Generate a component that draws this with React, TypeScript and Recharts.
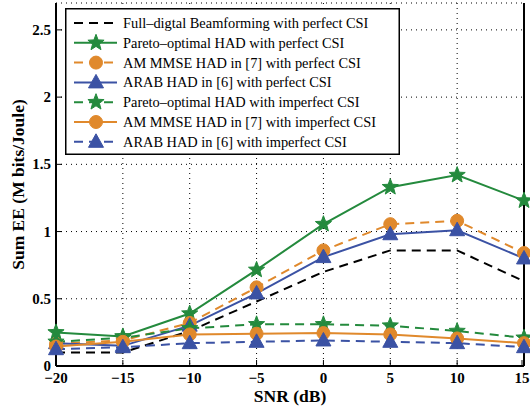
import React from 'react';
import { LineChart, Line, XAxis, YAxis, CartesianGrid, Legend } from 'recharts';

const snr = [-20, -15, -10, -5, 0, 5, 10, 15];
const fullDigital = [0.1, 0.1, 0.26, 0.48, 0.7, 0.86, 0.86, 0.63];
const paretoPerfect = [0.25, 0.22, 0.39, 0.715, 1.055, 1.33, 1.42, 1.23];
const ammsePerfect = [0.165, 0.19, 0.32, 0.585, 0.86, 1.055, 1.08, 0.84];
const arabPerfect = [0.17, 0.15, 0.3, 0.54, 0.81, 0.98, 1.01, 0.8];
const paretoImperfect = [0.18, 0.21, 0.28, 0.31, 0.31, 0.3, 0.26, 0.21];
const ammseImperfect = [0.145, 0.18, 0.235, 0.24, 0.245, 0.235, 0.205, 0.17];
const arabImperfect = [0.125, 0.14, 0.17, 0.18, 0.19, 0.18, 0.17, 0.14];

const xTicks = [-20, -15, -10, -5, 0, 5, 10, 15];
const yTicks = [0, 0.5, 1, 1.5, 2, 2.5];

const GREEN = '#248a3d';
const ORANGE = '#e0892c';
const BLUE = '#3b52a4';
const FONT = '"Liberation Serif", "DejaVu Serif", serif';

const data = snr.map((s, i) => ({
  snr: s,
  fullDigital: fullDigital[i],
  paretoPerfect: paretoPerfect[i],
  ammsePerfect: ammsePerfect[i],
  arabPerfect: arabPerfect[i],
  paretoImperfect: paretoImperfect[i],
  ammseImperfect: ammseImperfect[i],
  arabImperfect: arabImperfect[i],
}));

type MarkerKind = 'none' | 'star' | 'circle' | 'triangle';

const Marker = ({ kind, cx, cy, color }: { kind: MarkerKind; cx: number; cy: number; color: string }) => {
  if (kind === 'star') {
    const R = 8.5;
    const r = 3.6;
    const pts: string[] = [];
    for (let k = 0; k < 10; k++) {
      const ang = -Math.PI / 2 + (k * Math.PI) / 5;
      const rad = k % 2 === 0 ? R : r;
      pts.push(`${cx + rad * Math.cos(ang)},${cy + rad * Math.sin(ang)}`);
    }
    return <polygon points={pts.join(' ')} fill={color} stroke={color} strokeWidth={1} />;
  }
  if (kind === 'circle') {
    return <circle cx={cx} cy={cy} r={6.5} fill={color} stroke={color} strokeWidth={1} />;
  }
  if (kind === 'triangle') {
    return (
      <polygon
        points={`${cx},${cy - 8} ${cx - 7.5},${cy + 5.5} ${cx + 7.5},${cy + 5.5}`}
        fill={color}
        stroke={color}
        strokeWidth={1}
      />
    );
  }
  return null;
};

const series: { key: string; name: string; color: string; dash?: string; marker: MarkerKind }[] = [
  { key: 'fullDigital', name: 'Full\u2013digtal Beamforming with perfect CSI', color: '#000', dash: '9 6', marker: 'none' },
  { key: 'paretoPerfect', name: 'Pareto\u2013optimal HAD with perfect CSI', color: GREEN, marker: 'star' },
  { key: 'ammsePerfect', name: 'AM MMSE HAD in [7] with perfect CSI', color: ORANGE, dash: '9 6', marker: 'circle' },
  { key: 'arabPerfect', name: 'ARAB HAD in [6] with perfect CSI', color: BLUE, marker: 'triangle' },
  { key: 'paretoImperfect', name: 'Pareto\u2013optimal HAD with imperfect CSI', color: GREEN, dash: '9 6', marker: 'star' },
  { key: 'ammseImperfect', name: 'AM MMSE HAD in [7] with imperfect CSI', color: ORANGE, marker: 'circle' },
  { key: 'arabImperfect', name: 'ARAB HAD in [6] with imperfect CSI', color: BLUE, dash: '9 6', marker: 'triangle' },
];

const fmtX = (v: number) => (v < 0 ? `\u2212${Math.abs(v)}` : `${v}`);

const XTickBottom = (props: any) => {
  const { x, y, payload } = props;
  return (
    <g>
      <line x1={x} y1={y} x2={x} y2={y - 6} stroke="#000" strokeWidth={1} />
      <text x={x} y={y + 17} textAnchor="middle" fontFamily={FONT} fontWeight="bold" fontSize={15} fill="#000">
        {fmtX(payload.value)}
      </text>
    </g>
  );
};

const XTickTop = (props: any) => {
  const { x, y } = props;
  return <line x1={x} y1={y} x2={x} y2={y + 6} stroke="#000" strokeWidth={1} />;
};

const YTickLeft = (props: any) => {
  const { x, y, payload } = props;
  return (
    <g>
      <line x1={x} y1={y} x2={x + 6} y2={y} stroke="#000" strokeWidth={1} />
      <text x={x - 5} y={y + 5} textAnchor="end" fontFamily={FONT} fontWeight="bold" fontSize={15} fill="#000">
        {String(payload.value)}
      </text>
    </g>
  );
};

const YTickRight = (props: any) => {
  const { x, y } = props;
  return <line x1={x} y1={y} x2={x - 6} y2={y} stroke="#000" strokeWidth={1} />;
};

const LegendBox = () => {
  const w = 335;
  const h = 147;
  return (
    <svg width={w} height={h} style={{ display: 'block' }}>
      <rect x={0.75} y={0.75} width={w - 1.5} height={h - 1.5} fill="#fff" stroke="#000" strokeWidth={1.5} />
      {series.map((s, i) => {
        const cy = 15 + i * 19.8;
        return (
          <g key={s.key}>
            <line x1={9} y1={cy} x2={52} y2={cy} stroke={s.color} strokeWidth={2} strokeDasharray={s.dash} />
            <Marker kind={s.marker} cx={31} cy={cy} color={s.color} />
            <text x={58} y={cy + 5} fontFamily={FONT} fontSize={14.4} fill="#000">
              {s.name}
            </text>
          </g>
        );
      })}
    </svg>
  );
};

const YLabel = (props: any) => {
  const { viewBox } = props;
  const cx = 18;
  const cy = viewBox.y + viewBox.height / 2;
  return (
    <text
      x={cx}
      y={cy}
      transform={`rotate(-90, ${cx}, ${cy})`}
      textAnchor="middle"
      dominantBaseline="central"
      fontFamily={FONT}
      fontWeight="bold"
      fontSize={17.5}
      fill="#000"
    >
      Sum EE (M bits/Joule)
    </text>
  );
};

const XLabel = (props: any) => {
  const { viewBox } = props;
  const cx = viewBox.x + viewBox.width / 2;
  return (
    <text x={cx} y={402} textAnchor="middle" fontFamily={FONT} fontWeight="bold" fontSize={17.5} fill="#000">
      SNR (dB)
    </text>
  );
};

export default function App() {
  return (
    <div style={{ position: 'absolute', left: 0, top: 0, width: 530, height: 408, background: '#fff' }}>
      <LineChart width={530} height={408} data={data} margin={{ top: 3, right: 0, bottom: 0, left: 0 }}>
        <CartesianGrid stroke="#000" strokeDasharray="1 4" strokeWidth={1} />
        <XAxis
          dataKey="snr"
          type="number"
          domain={[-20, 15]}
          ticks={xTicks}
          tickSize={0}
          tickMargin={0}
          tick={<XTickBottom />}
          axisLine={{ stroke: '#000', strokeWidth: 2 }}
          tickLine={false}
          height={42}
          label={<XLabel />}
        />
        <XAxis
          xAxisId="top"
          orientation="top"
          dataKey="snr"
          type="number"
          domain={[-20, 15]}
          ticks={xTicks}
          tickSize={0}
          tickMargin={0}
          tick={<XTickTop />}
          axisLine={{ stroke: '#000', strokeWidth: 2 }}
          tickLine={false}
          height={0}
        />
        <YAxis
          type="number"
          domain={[0, 2.7]}
          ticks={yTicks}
          tickSize={0}
          tickMargin={0}
          tick={<YTickLeft />}
          axisLine={{ stroke: '#000', strokeWidth: 2 }}
          tickLine={false}
          width={56}
          label={<YLabel />}
          allowDataOverflow
        />
        <YAxis
          yAxisId="right"
          orientation="right"
          type="number"
          domain={[0, 2.7]}
          ticks={yTicks}
          tickSize={0}
          tickMargin={0}
          tick={<YTickRight />}
          axisLine={{ stroke: '#000', strokeWidth: 2 }}
          tickLine={false}
          width={6}
        />
        <Legend
          layout="vertical"
          align="center"
          verticalAlign="middle"
          wrapperStyle={{ left: 65, top: 8, width: 335, height: 147 }}
          content={() => <LegendBox />}
        />
        {series.map((s) => (
          <Line
            key={s.key}
            dataKey={s.key}
            name={s.name}
            stroke={s.color}
            strokeWidth={2}
            strokeDasharray={s.dash}
            isAnimationActive={false}
            dot={
              s.marker === 'none'
                ? false
                : (p: any) => <Marker key={`${s.key}-${p.index}`} kind={s.marker} cx={p.cx} cy={p.cy} color={s.color} />
            }
            activeDot={false}
          />
        ))}
      </LineChart>
    </div>
  );
}
